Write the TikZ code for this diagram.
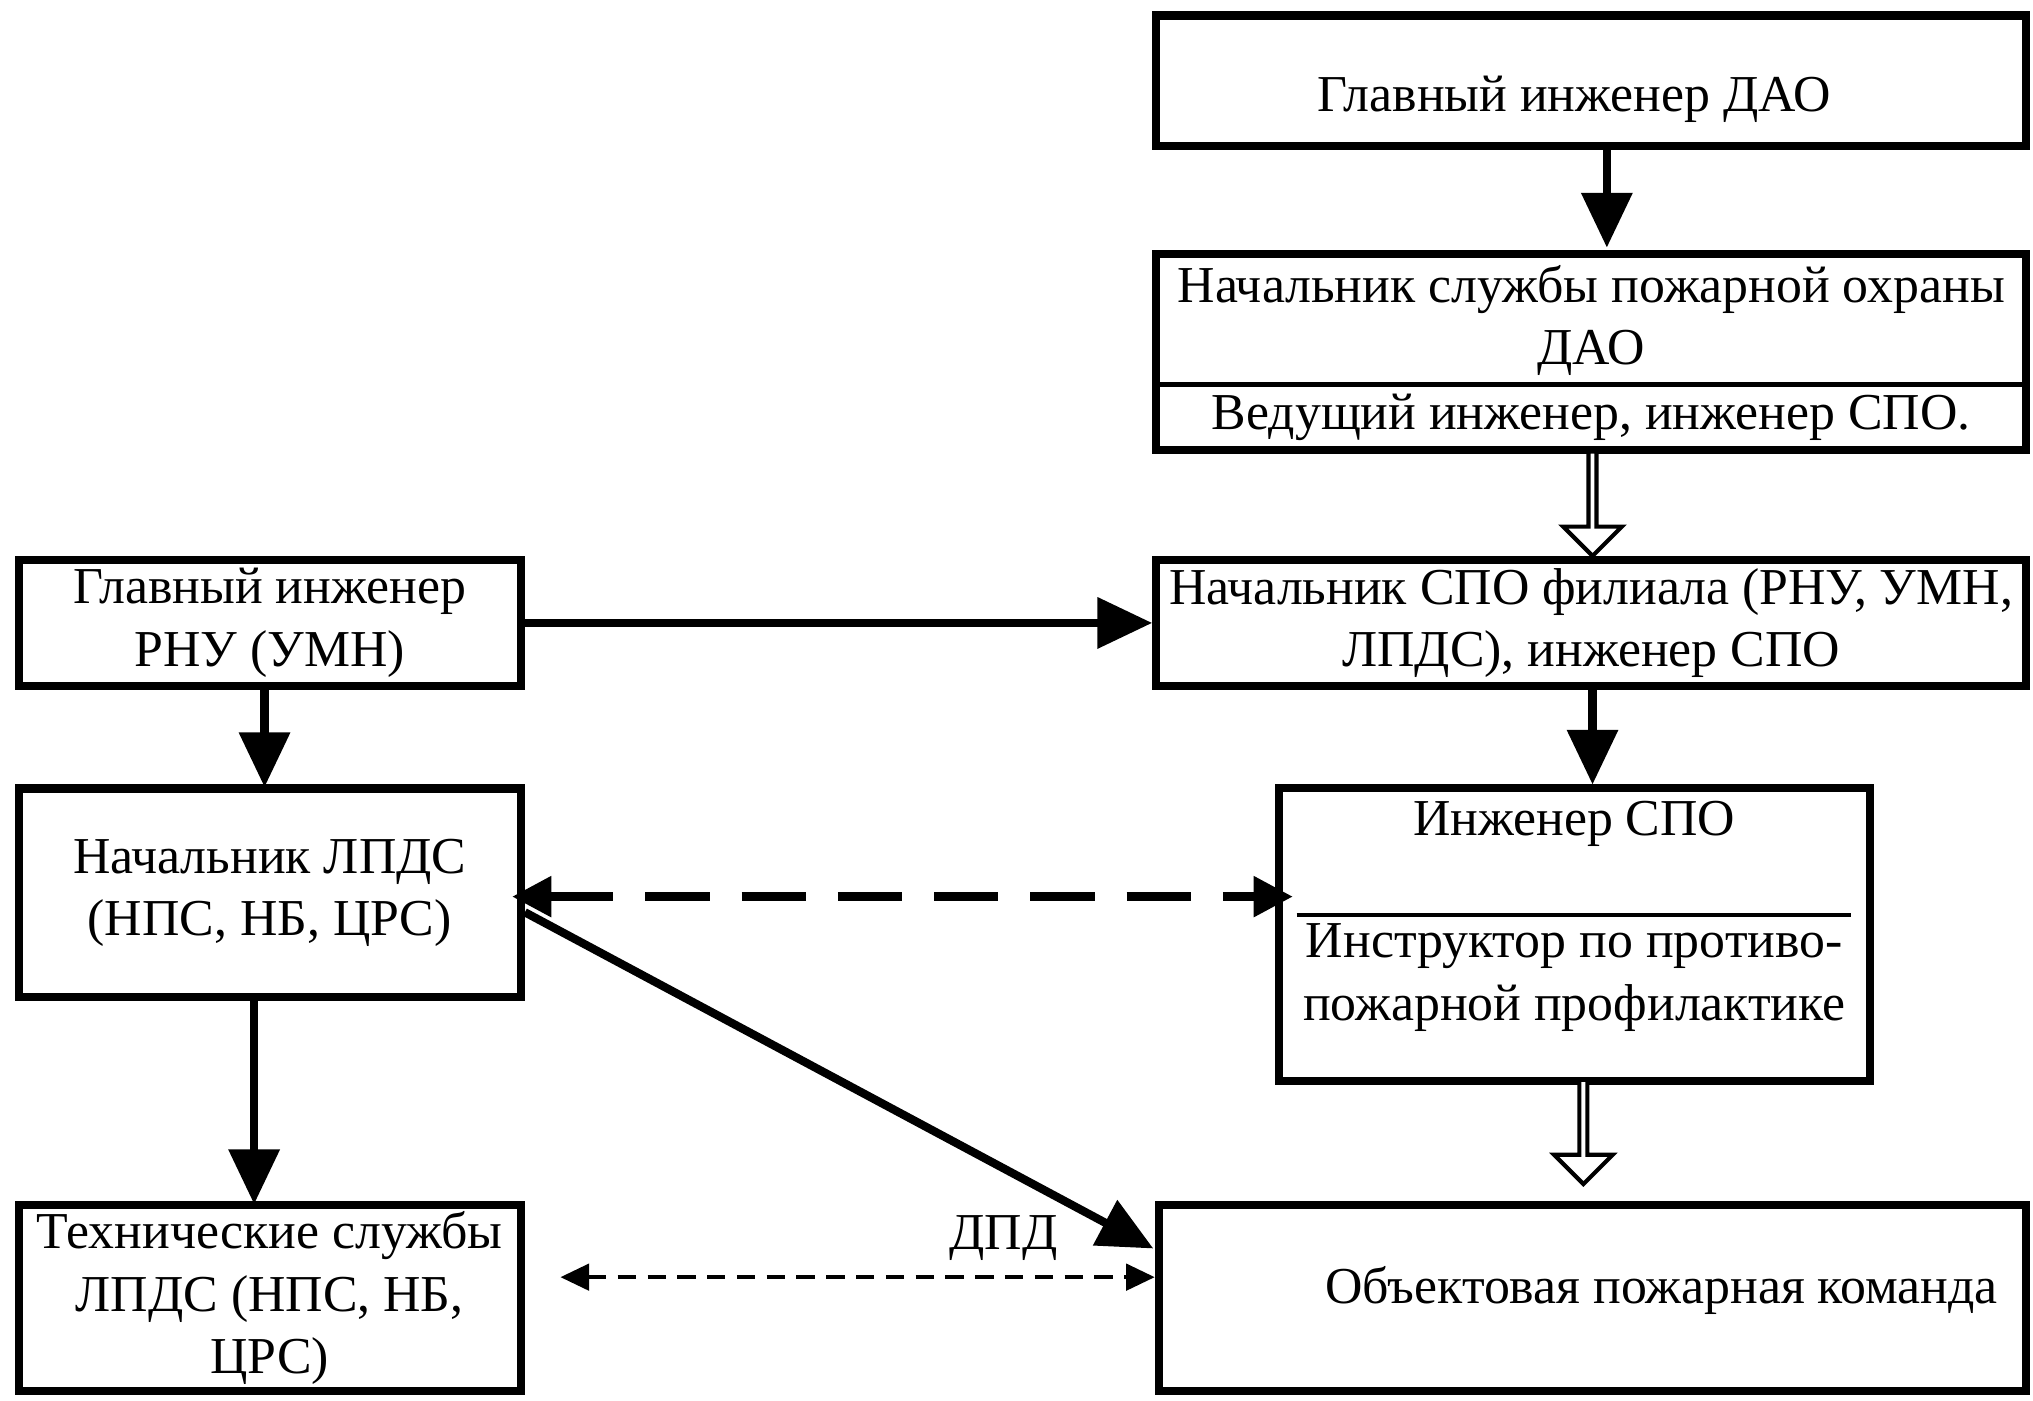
\documentclass[tikz,border=0pt]{standalone}
\usepackage{fontspec}
\setmainfont{Liberation Serif}
\usetikzlibrary{arrows.meta,shapes.arrows}

\begin{document}
\begin{tikzpicture}[x=0.01cm, y=-0.01cm, >={Triangle[length=0.42cm,width=0.38cm]},
    every node/.style={font=\fontsize{11.3}{13.6}\selectfont},
    blk/.style={
        % The frame
        draw=black, line width=1.8pt,
        % The text
        align=center, inner sep=0pt},
    link/.style={line width=1.8pt, ->},
    hollow/.style={single arrow, draw=black, line width=0.9pt, fill=white,
        single arrow head extend=0.1cm, minimum height=0.8cm,
        minimum width=0.45cm, inner sep=0pt, shape border rotate=270}]
    \useasboundingbox (0,0) rectangle (1560,1075);

    % right column
    \node [blk, minimum width=6.67cm, minimum height=1cm] (dao) at (1221,62) {};
    \node (daotxt) at (1208,76) {Главный инженер ДАО};
    \node [blk, minimum width=6.67cm, minimum height=1.5cm] (spo) at (1221,270) {};
    \draw [line width=0.9pt] (888,295) -- (1555,295);
    \node (spotop) at (1221,246) [align=center] {Начальник службы пожарной охраны\\ДАО};
    \node (spobot) at (1221,320) {Ведущий инженер, инженер СПО.};
    \node [blk, minimum width=6.67cm, minimum height=0.97cm] (fil) at (1221,478)
        {Начальник СПО филиала (РНУ, УМН,\\ЛПДС), инженер СПО};
    \node [blk, minimum width=4.53cm, minimum height=2.25cm] (eng) at (1208,717) {};
    \draw [line width=0.9pt] (995,702) -- (1420,702);
    \node (engtop) at (1208,632) {Инженер СПО};
    \node (engbot) at (1208,750) [align=center] {Инструктор по противо-\\пожарной профилактике};
    \node [blk, minimum width=6.65cm, minimum height=1.43cm] (team) at (1222,996) {};
    \node (teamtxt) at (1275,990) {Объектовая пожарная команда};

    % left column
    \node [blk, minimum width=3.85cm, minimum height=0.97cm] (rnu) at (207,478)
        {Главный инженер\\РНУ (УМН)};
    \node [blk, minimum width=3.85cm, minimum height=1.6cm] (lpds) at (207,685)
        {Начальник ЛПДС\\(НПС, НБ, ЦРС)};
    \node [blk, minimum width=3.85cm, minimum height=1.43cm] (tech) at (207,996)
        {Технические службы\\ЛПДС (НПС, НБ,\\ЦРС)};

    % hollow arrows
    \node [hollow] (h1) at (1222,385) {};
    \node [hollow] (h2) at (1215,867) {};

    % links
    \draw [link] (dao.south -| 1233,0) -- (1233,190);
    \draw [link] (rnu.east) -- (fil.west);
    \draw [link] (fil.south -| 1222,0) -- (1222,602);
    \draw [link] (rnu.south -| 203,0) -- (203,604);
    \draw [link] (lpds.south -| 195,0) -- (195,924);
    \draw [line width=1.8pt, dash pattern=on 14pt off 7pt, {Triangle[length=0.3cm,width=0.3cm]}-{Triangle[length=0.3cm,width=0.3cm]}]
        (393,688) -- (992,688);
    \draw [link] (lpds.east |- 0,700) -- (885,958);
    \draw [line width=1pt, dash pattern=on 4pt off 2.5pt, {Triangle[length=0.22cm,width=0.2cm]}-{Triangle[length=0.22cm,width=0.2cm]}]
        (430,980) -- (team.west |- 0,980);
    \node (dpd) at (770,950) {ДПД};
\end{tikzpicture}
\end{document}
